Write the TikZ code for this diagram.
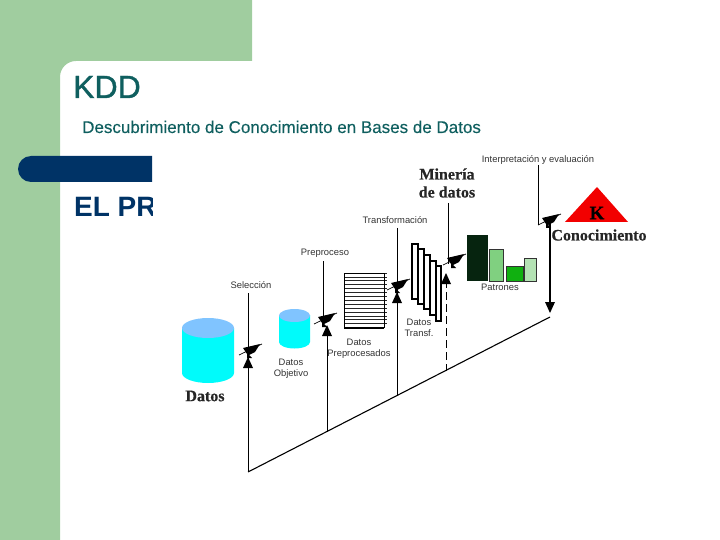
\documentclass[tikz,border=0pt]{standalone}
\usepackage{fontspec}
\setmainfont{Liberation Sans}
\newfontfamily\heavyfont{Liberation Sans}[FakeBold=1.2]
\newfontfamily\softfont{Liberation Sans}[FakeBold=0.15]
\newfontfamily\serifbold{Liberation Serif}[FakeBold=0.4]
\definecolor{slidegreen}{HTML}{A0CD9F}
\definecolor{slideteal}{HTML}{0F5F5F}
\definecolor{slidenavy}{HTML}{003366}
\definecolor{cylside}{HTML}{00FBFB}
\definecolor{cyltop}{HTML}{80C4FF}
\definecolor{bardark}{HTML}{06240F}
\definecolor{barmid}{HTML}{80D080}
\definecolor{barstrong}{HTML}{10B010}
\definecolor{barlight}{HTML}{B4E2B4}
\tikzset{
    smalllabel/.style={font=\fontsize{9.4}{11}\selectfont, text=black!80, align=center, inner sep=0pt},
    biglabel/.style={font=\serifbold\bfseries\fontsize{16}{18}\selectfont, text=black!85, align=center, inner sep=0pt},
    frameline/.style={draw=black, line width=1.6pt, fill=white},
    barline/.style={draw=black!80, line width=0.9pt},
    stemline/.style={draw=black, line width=0.8pt},
    dishhead/.pic={
        \fill[black] (-7,-2) -- (10,-6) -- (5,2) -- (-1,5) -- (2,8) -- (-3,8) -- (-3,4) -- cycle;
        \draw[line width=0.7pt] (-11,5) -- (12,-6);
    },
    upmark/.pic={
        \fill[black] (0,-11) -- (5,0) -- (-5,0) -- cycle;
    }
}
\begin{document}
\begin{tikzpicture}[x=1pt,y=-1pt]
    \useasboundingbox (0,0) rectangle (720,540);

    % slide background
    \fill[slidegreen] (0,0) -- (252,0) -- (252,61) -- (76,61)
        arc[start angle=270, end angle=180, radius=16] -- (60,540) -- (0,540) -- cycle;
    \fill[slidenavy] (31,156) -- (152,156) -- (152,182) -- (31,182)
        arc[start angle=90, end angle=270, radius=13] -- cycle;
    \node[anchor=base west, inner sep=0pt, text=slideteal, font=\heavyfont\fontsize{32}{34}\selectfont] (title) at (73,98) {KDD};
    \node[anchor=base west, inner sep=0pt, text=slideteal, font=\softfont\fontsize{17}{19}\selectfont] (subtitle) at (82,133) {Descubrimiento de Conocimiento en Bases de Datos};
    \begin{scope}
        \clip (60,185) rectangle (152,230);
        \node[anchor=base west, inner sep=0pt, text=slidenavy, font=\bfseries\fontsize{28}{30}\selectfont] (heading) at (74,217) {EL PR};
    \end{scope}

    % cylinders
    \fill[cylside] (182,328) -- (182,373) arc[start angle=180, end angle=0, x radius=26, y radius=10]
        -- (234,328) -- cycle;
    \fill[cyltop] (208,328) ellipse[x radius=26, y radius=10];
    \fill[cylside] (279,315) -- (279,342) arc[start angle=180, end angle=0, x radius=15.5, y radius=6.5]
        -- (310,315) -- cycle;
    \fill[cyltop] (294.5,315.5) ellipse[x radius=15.5, y radius=6.5];

    % stack of records
    \pgfmathsetmacro\rowheight{3.9};
    \foreach \i in {0,...,13}
        \draw[black!85, line width=0.7pt] (344, 273 + \i * \rowheight) -- (387, 273 + \i * \rowheight);
    \draw[black, line width=0.7pt] (344,273) -- (384,273) -- (384,328);
    \draw[black, line width=0.7pt] (344,273) -- (344,328);
    \draw[black, line width=1.6pt] (344,328) -- (384,328);

    % transformed frames
    \draw[frameline] (412,244) rectangle (418,299);
    \draw[frameline] (418,249) rectangle (424,304);
    \draw[frameline] (424,255) rectangle (430,309);
    \draw[frameline] (430,261) rectangle (436,315);
    \draw[frameline] (436,266) rectangle (441,321);

    % bars
    \fill[bardark] (467,235) rectangle (488,281);
    \draw[barline, fill=barmid] (489,249) rectangle (503,281);
    \draw[barline, fill=barstrong] (506,266) rectangle (523,281);
    \draw[barline, fill=barlight] (524,258) rectangle (536,281);

    % triangle
    \fill[red!95!black] (597,187) -- (628,222) -- (565,222) -- cycle;
    \node[font=\serifbold\bfseries\fontsize{19}{19}\selectfont, inner sep=0pt] (kmark) at (597,213) {K};

    % base line and stems
    \coordinate (basestart) at (248,472);
    \coordinate (baseend) at (550,317);
    \coordinate (seltop) at (248,293);
    \coordinate (prefoot) at (327,432);
    \coordinate (prestem) at (327,330);
    \coordinate (pretop) at (323,261);
    \coordinate (premid) at (323,317);
    \coordinate (transtop) at (397,228);
    \coordinate (transfoot) at (397,396);
    \coordinate (minetop) at (448,203);
    \coordinate (minemid) at (448,264);
    \coordinate (dashtop) at (446,280);
    \coordinate (dashfoot) at (446,371);
    \coordinate (interptop) at (538,165);
    \coordinate (interpmid) at (538,225);
    \coordinate (downtop) at (550,222);
    \coordinate (downfoot) at (550,305);

    \draw[stemline, line width=1.1pt] (basestart) -- (baseend);
    \draw[stemline, line width=1pt] (seltop) -- (basestart);
    \draw[stemline] (pretop) -- (premid);
    \draw[stemline, line width=1pt] (prestem) -- (prefoot);
    \draw[stemline, line width=0.6pt] (transtop) -- (transfoot);
    \draw[stemline] (minetop) -- (minemid);
    \draw[stemline, line width=1pt, dash pattern=on 8pt off 4pt] (dashtop) -- (dashfoot);
    \draw[stemline] (interptop) -- (interpmid);
    \draw[stemline, line width=1.1pt] (downtop) -- (downfoot);

    % dish marks
    \pic at (250,350) {dishhead};
    \pic at (248,368) {upmark};
    \pic at (325,319) {dishhead};
    \pic at (327,336) {upmark};
    \pic at (398,285) {dishhead};
    \pic at (397,303) {upmark};
    \pic at (454,260) {dishhead};
    \pic at (446,284) {upmark};
    \pic at (549,220) {dishhead};
    \pic[yscale=-1] at (550,302) {upmark};

    % labels
    \node[smalllabel] (selection) at (251,285) {Selección};
    \node[smalllabel] (preprocess) at (325,253) {Preproceso};
    \node[smalllabel] (transformation) at (395,220) {Transformación};
    \node[smalllabel] (interpretation) at (538,160) {Interpretación y evaluación};
    \node[smalllabel] (target) at (291,369) {Datos\\Objetivo};
    \node[smalllabel] (preprocessed) at (359,349) {Datos\\Preprocesados};
    \node[smalllabel] (transformed) at (419,328) {Datos\\Transf.};
    \node[smalllabel] (patterns) at (500,287) {Patrones};
    \node[biglabel] (mining) at (447,183) {Minería\\de datos};
    \node[biglabel] (knowledge) at (599,235) {Conocimiento};
    \node[biglabel] (data) at (205,396) {Datos};
\end{tikzpicture}
\end{document}
